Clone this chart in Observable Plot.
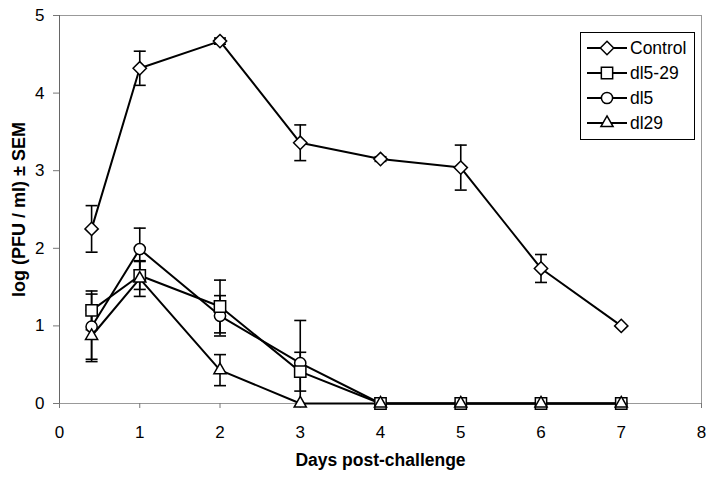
<!DOCTYPE html>
<html>
<head>
<meta charset="utf-8">
<script src="https://cdn.jsdelivr.net/npm/d3@7"></script>
<script src="https://cdn.jsdelivr.net/npm/@observablehq/plot@0.6"></script>
<style>
  html, body { margin: 0; padding: 0; background: #fff; }
  #wrap { position: relative; width: 715px; height: 483px; font-family: "Liberation Sans", Arial, sans-serif; }
  #legend { position: absolute; left: 580px; top: 32px; }
</style>
</head>
<body>
<div id="wrap"><div id="chart"></div><div id="legend"></div></div>
<script>
const days = [0.4, 1, 2, 3, 4, 5, 6, 7];
const seriesNames = ["Control", "dl5-29", "dl5", "dl29"];
const control    = [2.25, 4.32, 4.67, 3.36, 3.15, 3.04, 1.74, 1.00];
const controlErr = [0.30, 0.22, 0.04, 0.23, 0.03, 0.29, 0.18, 0];
const dl529      = [1.20, 1.65, 1.25, 0.41, 0, 0, 0, 0];
const dl529Err   = [0.25, 0.18, 0.34, 0.25, 0, 0, 0, 0];
const dl5        = [0.99, 1.99, 1.13, 0.52, 0, 0, 0, 0];
const dl5Err     = [0.42, 0.27, 0.26, 0.55, 0, 0, 0, 0];
const dl29       = [0.87, 1.61, 0.43, 0, 0, 0, 0, 0];
const dl29Err    = [0.33, 0.23, 0.20, 0, 0, 0, 0, 0];
const xTicks = [0, 1, 2, 3, 4, 5, 6, 7, 8];
const yTicks = [0, 1, 2, 3, 4, 5];

const symbolsBy = {"Control": "diamond2", "dl5-29": "square2", "dl5": "circle", "dl29": "triangle2"};
const rBy = {"Control": 6, "dl5-29": 7.2, "dl5": 5.6, "dl29": 5.8};
const valuesBy = {"Control": [control, controlErr], "dl5-29": [dl529, dl529Err], "dl5": [dl5, dl5Err], "dl29": [dl29, dl29Err]};

// drawing order (later on top)
const drawOrder = ["Control", "dl5", "dl5-29", "dl29"];

function rows(name) {
  const [v, e] = valuesBy[name];
  return days.map((d, i) => ({series: name, day: d, value: v[i], err: e[i]}));
}

const cap = {
  draw(ctx, size) {
    const w = 6;
    ctx.moveTo(-w, 0); ctx.lineTo(w, 0);
  }
};

const marks = [];
for (const name of drawOrder) {
  const data = rows(name);
  const withErr = data.filter(d => d.err > 0);
  marks.push(Plot.ruleX(withErr, {x: "day", y1: d => Math.max(0, d.value - d.err), y2: d => d.value + d.err, stroke: "#000", strokeWidth: 1.6}));
  marks.push(Plot.dot(withErr, {x: "day", y: d => d.value + d.err, symbol: cap, stroke: "#000", strokeWidth: 1.6, r: 3}));
  marks.push(Plot.dot(withErr.filter(d => d.value - d.err > 0), {x: "day", y: d => d.value - d.err, symbol: cap, stroke: "#000", strokeWidth: 1.6, r: 3}));
}
for (const name of drawOrder) {
  const data = rows(name);
  marks.push(Plot.line(data, {x: "day", y: "value", stroke: "#000", strokeWidth: 2}));
}
for (const name of drawOrder) {
  const data = rows(name);
  marks.push(Plot.dot(data, {x: "day", y: "value", symbol: symbolsBy[name], r: rBy[name], fill: "#fff", stroke: "#000", strokeWidth: 1.5}));
}

const chart = Plot.plot({
  width: 715, height: 483,
  marginLeft: 59, marginRight: 14, marginTop: 15, marginBottom: 80,
  style: {fontFamily: '"Liberation Sans", Arial, sans-serif', fontSize: "17px", color: "#000", background: "#fff"},
  x: {domain: [0, 8]},
  y: {domain: [0, 5]},
  marks: [
    Plot.frame({stroke: "#999", strokeWidth: 1}),
    Plot.ruleX([0], {stroke: "#666", strokeWidth: 1}),
    Plot.axisY(yTicks, {tickSize: 6, tickPadding: 9, stroke: "#777", label: null, fontSize: 17, fill: "#000", tickFormat: d3.format("d")}),
    Plot.axisX(xTicks, {tickSize: 5, tickPadding: 17, stroke: "#777", label: null, fontSize: 17, fill: "#000", tickFormat: d3.format("d")}),
    ...marks,
    Plot.text(["Days post-challenge"], {frameAnchor: "bottom", dy: 62, text: d => d, fontWeight: "bold", fontSize: 17.5}),
    Plot.text(["log (PFU / ml) \u00b1 SEM"], {frameAnchor: "left", textAnchor: "middle", dx: -40, rotate: -90, text: d => d, fontWeight: "bold", fontSize: 18})
  ]
});
document.getElementById("chart").appendChild(chart);

// Legend
const lw = 115, lh = 108, rowH = 25;
const leg = d3.select("#legend").append("svg").attr("width", lw).attr("height", lh)
  .style("font-family", '"Liberation Sans", Arial, sans-serif');
leg.append("rect").attr("x", 0.5).attr("y", 0.5).attr("width", lw - 1).attr("height", lh - 1)
  .attr("fill", "#fff").attr("stroke", "#000");
const symMap = {"diamond2": d3.symbolDiamond2, "square2": d3.symbolSquare2, "circle": d3.symbolCircle, "triangle2": d3.symbolTriangle2};
seriesNames.forEach((name, i) => {
  const y = 16 + i * rowH;
  const g = leg.append("g").attr("transform", `translate(0,${y})`);
  g.append("line").attr("x1", 7).attr("x2", 47).attr("y1", 0).attr("y2", 0).attr("stroke", "#000").attr("stroke-width", 2);
  const r = rBy[name];
  g.append("path").attr("transform", "translate(27,0)")
    .attr("d", d3.symbol(symMap[symbolsBy[name]], Math.PI * r * r)())
    .attr("fill", "#fff").attr("stroke", "#000").attr("stroke-width", 1.5);
  g.append("text").attr("x", 50).attr("y", 0).attr("dy", "0.35em").attr("font-size", 17.5).text(name);
});
</script>
</body>
</html>
